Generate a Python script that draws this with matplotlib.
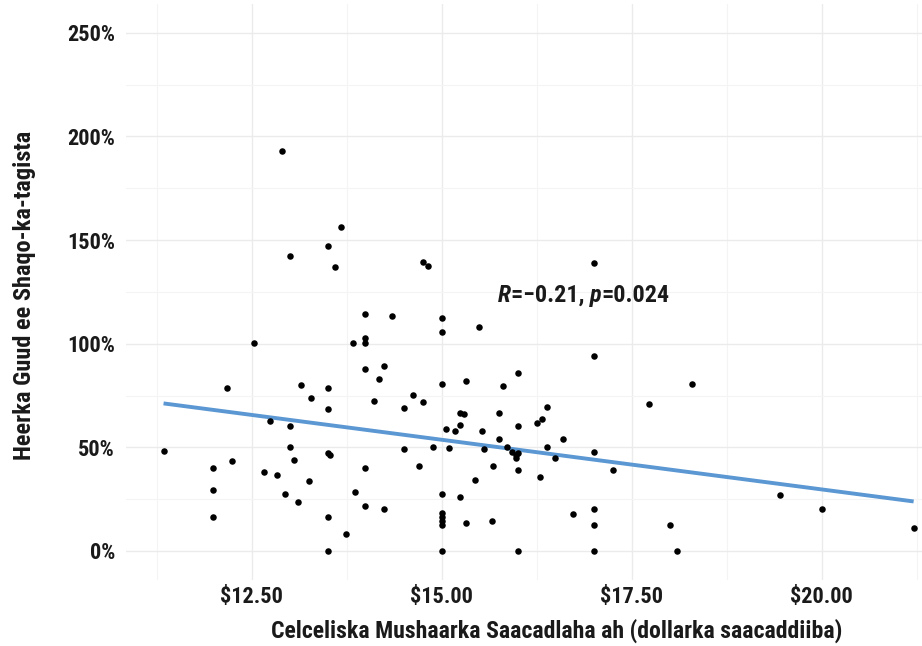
import os
import matplotlib
matplotlib.use('Agg')
import matplotlib.pyplot as plt
import matplotlib.font_manager as fm
from matplotlib.ticker import FixedLocator, FuncFormatter

# hourly wage (x, dollars) vs growth rate (y, percent)
wage = [12.895, 13.68, 13.50, 13.004, 13.59,
        13.995, 12.534, 13.837, 13.995, 13.995, 13.995, 14.24, 14.18,
        12.18, 13.145, 13.50, 13.28, 14.11, 13.50, 12.74, 13.004,
        11.34, 13.004, 13.50, 13.53, 12.245, 13.06, 11.995, 13.995,
        12.66, 12.83, 13.25, 11.995, 12.94, 13.855, 13.11, 13.995,
        14.24, 11.995, 13.50, 13.745, 13.50,
        14.75, 14.816, 17.0, 14.35, 15.0, 15.0, 15.49, 17.0,
        16.01, 15.0, 15.32, 15.81, 14.62, 14.75, 14.5, 15.24, 15.30,
        15.76, 16.39, 16.32, 16.25, 15.24, 15.06, 15.18, 15.53, 16.01,
        15.76, 16.59, 14.5, 14.89, 15.10, 15.56, 15.855, 15.93, 15.98,
        15.98, 16.01, 16.39, 16.49, 17.0, 14.705, 15.67, 16.01, 17.25,
        16.30, 15.44, 15.0, 15.24, 17.0, 16.73, 15.0, 15.0, 15.0, 15.0,
        15.32, 15.66, 17.0, 15.0, 16.01, 17.0,
        18.30, 17.73, 19.45, 20.01, 18.0, 18.10, 21.21]
rate = [193.1, 156.4, 147.3, 142.2, 137.0,
        114.3, 100.2, 100.2, 102.9, 100.2, 87.6, 89.2, 83.1,
        78.5, 80.2, 78.5, 74.0, 72.4, 68.4, 62.6, 60.3,
        48.4, 50.2, 47.4, 46.2, 43.3, 43.9, 39.9, 39.9,
        38.1, 36.5, 33.6, 29.6, 27.4, 28.5, 23.5, 21.7,
        20.1, 16.5, 16.5, 8.0, 0.1,
        139.3, 137.6, 138.8, 113.2, 112.5, 105.8, 108.1, 93.9,
        85.9, 80.4, 82.0, 79.7, 75.1, 71.7, 68.8, 66.7, 66.1,
        66.7, 69.5, 63.8, 61.6, 60.9, 58.7, 58.0, 58.0, 60.3,
        54.0, 54.0, 49.1, 50.2, 49.5, 49.1, 50.2, 47.9, 46.3,
        44.7, 47.1, 50.2, 44.9, 47.9, 41.0, 41.0, 39.2, 39.2,
        35.8, 34.2, 27.4, 26.2, 20.1, 17.7, 18.2, 16.6, 14.5, 12.5,
        13.7, 14.3, 12.5, 0.0, 0.0, 0.0,
        80.7, 71.1, 26.9, 20.1, 12.5, 0.0, 10.9]

# fitted line
fit_x = [11.34, 21.21]
fit_y = [71.2, 23.9]

xticks = [12.5, 15.0, 17.5, 20.0]
xminor = [11.25, 13.75, 16.25, 18.75, 21.25]
yticks = [0, 50, 100, 150, 200, 250]
yminor = [25, 75, 125, 175, 225]

xlab = 'Celceliska Mushaarka Saacadlaha ah (dollarka saacaddiiba)'
ylab = 'Heerka Guud ee Shaqo-ka-tagista'
corr = [('R', True), ('=\u22120.21, ', False), ('p', True), ('=0.024', False)]

# look for a narrow bold face, the original uses a condensed bold font
def find_font(italic):
    pref = ['liberationsansnarrow', 'robotocondensed', 'notosanscondensed',
            'opensanscondensed', 'opensanscond', 'dejavusanscondensed']
    files = {}
    for f in fm.fontManager.ttflist:
        b = os.path.basename(f.fname).lower().replace('-', '').replace('_', '').replace(' ', '')
        files[b] = f.fname
    for p in pref:
        for b, path in sorted(files.items()):
            if not b.startswith(p):
                continue
            rest = b[len(p):].split('.')[0]
            if any(k in rest for k in ['semi', 'extra', 'black', 'medium', 'light', 'thin']):
                continue
            if 'bold' not in rest or ('italic' in rest) != italic:
                continue
            return fm.FontProperties(fname=path)
    fp = fm.FontProperties(family=['Roboto', 'DejaVu Sans'], weight='bold')
    if italic:
        fp.set_style('italic')
    return fp

fb = find_font(False)
fbi = find_font(True)
tc = '#1a1a1a'

fig = plt.figure(figsize=(9.22, 6.46), dpi=100)
W, H = 922.0, 646.0
ax = fig.add_axes([126 / W, 1 - 580 / H, 796 / W, 576 / H])

ax.scatter(wage, rate, s=22, color='black', linewidths=0, zorder=3)
ax.plot(fit_x, fit_y, color='#5b97d2', lw=2.8, solid_capstyle='butt', zorder=2)

ax.set_xlim(10.846, 21.32)
ax.set_ylim(-14.0, 263.9)

ax.xaxis.set_major_locator(FixedLocator(xticks))
ax.xaxis.set_minor_locator(FixedLocator(xminor))
ax.yaxis.set_major_locator(FixedLocator(yticks))
ax.yaxis.set_minor_locator(FixedLocator(yminor))
ax.xaxis.set_major_formatter(FuncFormatter(lambda v, p: '$%.2f' % v))
ax.yaxis.set_major_formatter(FuncFormatter(lambda v, p: '%d%%' % v))

ax.grid(which='major', color='#ebebeb', lw=1.0)
ax.grid(which='minor', color='#f4f4f4', lw=0.8)
ax.set_axisbelow(True)
for s in ax.spines.values():
    s.set_visible(False)
ax.tick_params(which='both', length=0)

fig.canvas.draw()
rend = fig.canvas.get_renderer()

def width_of(txt, fp, size):
    t = fig.text(0, 0, txt, fontproperties=fp, fontsize=size)
    w = t.get_window_extent(rend).width
    t.remove()
    return w

# font sizes scaled to match text widths measured in the reference
ts = (14 * 61.0 / width_of('$12.50', fb, 14) + 14 * 49.0 / width_of('250%', fb, 14)) / 2
ax.tick_params(axis='x', pad=12, labelsize=ts)
ax.tick_params(axis='y', pad=8, labelsize=ts)
for lab in ax.get_xticklabels() + ax.get_yticklabels():
    lab.set_fontproperties(fb)
    lab.set_fontsize(ts)
    lab.set_color(tc)
for lab in ax.get_xticklabels():
    lab.set_verticalalignment('center')

xs = 16 * 571.0 / width_of(xlab, fb, 16)
fig.text(557 / W, 1 - 631 / H, xlab, fontproperties=fb, fontsize=xs,
         color=tc, ha='center', va='center')
ys = 16 * 330.0 / width_of(ylab, fb, 16)
fig.text(25 / W, 1 - 295 / H, ylab, fontproperties=fb, fontsize=ys, rotation=90,
         color=tc, ha='center', va='center')

# correlation label, italic R and p, pieces chained left to right
fps = [fbi if it else fb for _, it in corr]
tot = sum(width_of(s, f, 15) for (s, _), f in zip(corr, fps))
cs = 15 * 172.0 / tot
prev = fig.text(498 / W, 1 - 302 / H, corr[0][0], fontproperties=fps[0],
                fontsize=cs, color=tc, ha='left', va='baseline')
for (s, _), f in zip(corr[1:], fps[1:]):
    prev = ax.annotate(s, xy=(1, 0), xycoords=prev, fontproperties=f, fontsize=cs,
                       color=tc, ha='left', va='bottom', annotation_clip=False)

fig.savefig('out.png', dpi=100)
